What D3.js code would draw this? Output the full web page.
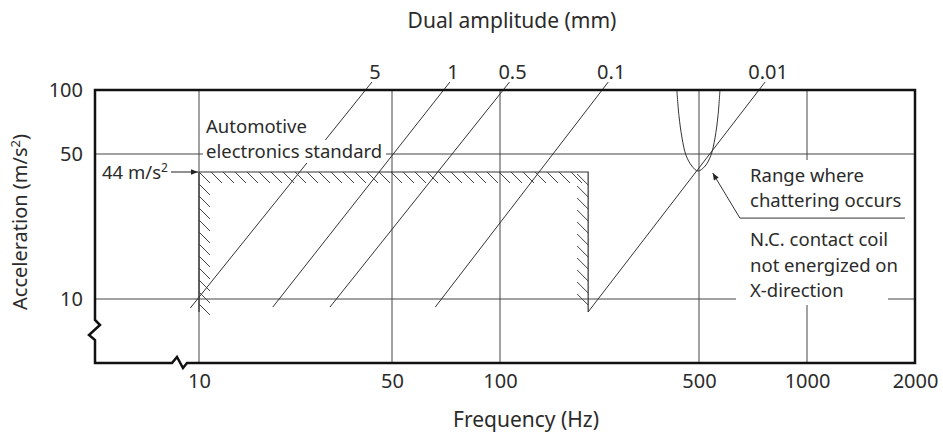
<!DOCTYPE html>
<html>
<head>
<meta charset="utf-8">
<script src="https://cdn.jsdelivr.net/npm/d3@7"></script>
<style>
body { margin: 0; background: #fff; }
svg { display: block; font-family: "Noto Sans", sans-serif; }
text { fill: #2b2b2b; }
</style>
</head>
<body>
<svg width="943" height="438"></svg>
<script>
// ticks: frequency (Hz) below, acceleration (m/s2) left
var xTicks = [10, 50, 100, 500, 1000, 2000];
var yTicks = [10, 50, 100];

// dual amplitude lines (mm), ends as [Hz, m/s2]
var amplitudes = ["5", "1", "0.5", "0.1", "0.01"];
var ampTop = [[42.3, 109], [72.5, 109], [108, 109], [240, 109], [764, 109]];
var ampBottom = [[9.3, 9.0], [18.5, 9.1], [29.8, 9.1], [66, 9.1], [204, 8.6]];

// automotive electronics standard (hatched box)
var standardLevel = 44;
var standardFreq = [10, 204];
var standardBottom = 8.6;

// range where chattering occurs
var chatterFreq = [418, 425, 436, 450, 472, 496, 520, 540, 554, 565, 572];
var chatterAcc = [100, 76, 59.4, 49.6, 45.9, 44.3, 45.9, 49.6, 59.4, 76, 100];

// leader of the chattering note: tip, elbow, end of underline
var leader = [[546, 43.5], [650, 25.7], [1875, 25.7]];

var noteLines = ["Range where", "chattering occurs", "N.C. contact coil", "not energized on", "X-direction"];

var svg = d3.select("svg"),
    margin = { top: 90, right: 28, bottom: 75, left: 95 },
    width = +svg.attr("width") - margin.left - margin.right,
    height = +svg.attr("height") - margin.top - margin.bottom;

// schematic axes: not evenly logarithmic, so piecewise log scales
var x = d3.scaleLog().domain(xTicks).range([104, 297, 405, 604, 712, width]);
var y = d3.scaleLog().domain([10, standardLevel, 50, 100]).range([209, 82, 64, 0]);

var g = svg.append("g")
    .attr("transform", "translate(" + margin.left + "," + margin.top + ")");

// grid
g.selectAll(".vgrid")
    .data(xTicks.slice(0, -1))
    .enter().append("line")
    .attr("x1", d => x(d)).attr("x2", d => x(d))
    .attr("y1", 0).attr("y2", height)
    .attr("stroke", "#444").attr("stroke-width", 1);

g.selectAll(".hgrid")
    .data(yTicks.slice(0, -1))
    .enter().append("line")
    .attr("x1", 0).attr("x2", width)
    .attr("y1", d => y(d)).attr("y2", d => y(d))
    .attr("stroke", "#444").attr("stroke-width", 1);

// amplitude lines
var line = d3.line().x(d => x(d[0])).y(d => y(d[1]));

g.selectAll(".amp")
    .data(amplitudes)
    .enter().append("path")
    .attr("d", (d, i) => line([ampBottom[i], ampTop[i]]))
    .attr("stroke", "#333").attr("stroke-width", 1).attr("fill", "none");

g.selectAll(".ampLabel")
    .data(amplitudes)
    .enter().append("text")
    .attr("x", (d, i) => x(ampTop[i][0]) + 3)
    .attr("y", (d, i) => y(ampTop[i][1]) - 3)
    .attr("text-anchor", "middle")
    .style("font-size", "20px")
    .text(d => d);

// chattering curve
g.append("path")
    .attr("d", d3.line().curve(d3.curveCatmullRom)
        .x(d => x(d[0])).y(d => y(d[1]))(chatterFreq.map((f, i) => [f, chatterAcc[i]])))
    .attr("stroke", "#333").attr("stroke-width", 1).attr("fill", "none");

// hatched standard box
var x0 = x(standardFreq[0]), x1 = x(standardFreq[1]),
    yTop = y(standardLevel), yBot = y(standardBottom);

g.append("path")
    .attr("d", "M" + x0 + "," + yBot + "V" + yTop + "H" + x1 + "V" + yBot)
    .attr("stroke", "#333").attr("stroke-width", 1.2).attr("fill", "none");

var hatch = [];
for (var hx = x0; hx + 11 <= x1; hx += 12) hatch.push([hx, yTop, hx + 11, yTop + 11]);
for (var hy = yTop + 12; hy + 2 <= yBot; hy += 12) hatch.push([x0, hy, x0 + 11, hy + 11]);
for (var ry = yTop + 2; ry + 11 <= yBot + 2; ry += 12) hatch.push([x1 - 11, ry, x1, ry + 11]);

g.selectAll(".hatch")
    .data(hatch)
    .enter().append("line")
    .attr("x1", d => d[0]).attr("y1", d => d[1])
    .attr("x2", d => d[2]).attr("y2", d => d[3])
    .attr("stroke", "#444").attr("stroke-width", 1);

// white boxes behind the notes
g.append("rect").attr("x", 108).attr("y", 23).attr("width", 108).attr("height", 25).attr("fill", "#fff");
g.append("rect").attr("x", 108).attr("y", 50).attr("width", 183).attr("height", 23).attr("fill", "#fff");
g.append("rect").attr("x", 641).attr("y", 70).attr("width", 152).attr("height", 145).attr("fill", "#fff");

g.append("text").attr("x", 111).attr("y", 43).style("font-size", "18.5px").text("Automotive");
g.append("text").attr("x", 111).attr("y", 68).style("font-size", "18.5px").text("electronics standard");

// 44 m/s2 marker
g.append("text").attr("x", 7).attr("y", yTop + 7).style("font-size", "18.5px")
    .html("44 m/s<tspan dy='-7' style='font-size:12px'>2</tspan>");

var defs = svg.append("defs");
defs.append("marker")
    .attr("id", "head")
    .attr("viewBox", "0 0 10 10")
    .attr("refX", 10).attr("refY", 5)
    .attr("markerWidth", 9).attr("markerHeight", 7)
    .attr("markerUnits", "userSpaceOnUse")
    .attr("orient", "auto-start-reverse")
    .append("path").attr("d", "M0,1L10,5L0,9Z").attr("fill", "#222");

g.append("line")
    .attr("x1", 76).attr("x2", x0 - 1)
    .attr("y1", yTop).attr("y2", yTop)
    .attr("stroke", "#222").attr("stroke-width", 1)
    .attr("marker-end", "url(#head)");

// chattering note and leader
g.append("path")
    .attr("d", line(leader))
    .attr("stroke", "#333").attr("stroke-width", 1).attr("fill", "none")
    .attr("marker-start", "url(#head)");

var noteY = [92, 117, 156, 182, 207];
g.selectAll(".note")
    .data(noteLines)
    .enter().append("text")
    .attr("x", 655)
    .attr("y", (d, i) => noteY[i])
    .style("font-size", "18.5px")
    .text(d => d);

// frame with axis breaks
g.append("path")
    .attr("d", "M0,0H" + width + "V" + height + "H92L88,278L82,267L77," + height +
        "H0V250L-6,245L5,235L0,230Z")
    .attr("stroke", "#111").attr("stroke-width", 2.5).attr("fill", "none")
    .attr("stroke-linejoin", "miter");

// axes
var xAxis = g.append("g")
    .attr("transform", "translate(0," + height + ")")
    .call(d3.axisBottom(x).tickValues(xTicks).tickSize(0).tickPadding(11).tickFormat(d3.format("d")));
xAxis.select(".domain").remove();
xAxis.selectAll("text").style("font-size", "20px").style("font-family", "Noto Sans").attr("fill", "#2b2b2b");

var yAxis = g.append("g")
    .call(d3.axisLeft(y).tickValues(yTicks).tickSize(0).tickPadding(12).tickFormat(d3.format("d")));
yAxis.select(".domain").remove();
yAxis.selectAll("text").style("font-size", "20px").style("font-family", "Noto Sans").attr("fill", "#2b2b2b");

// titles
svg.append("text")
    .attr("x", 512).attr("y", 28)
    .attr("text-anchor", "middle")
    .style("font-size", "21px")
    .text("Dual amplitude (mm)");

svg.append("text")
    .attr("x", 526).attr("y", 427)
    .attr("text-anchor", "middle")
    .style("font-size", "21px")
    .text("Frequency (Hz)");

svg.append("text")
    .attr("transform", "translate(27,222) rotate(-90)")
    .attr("text-anchor", "middle")
    .style("font-size", "20px")
    .html("Acceleration (m/s<tspan dy='-7' style='font-size:13px'>2</tspan><tspan dy='7'>)</tspan>");
</script>
</body>
</html>
